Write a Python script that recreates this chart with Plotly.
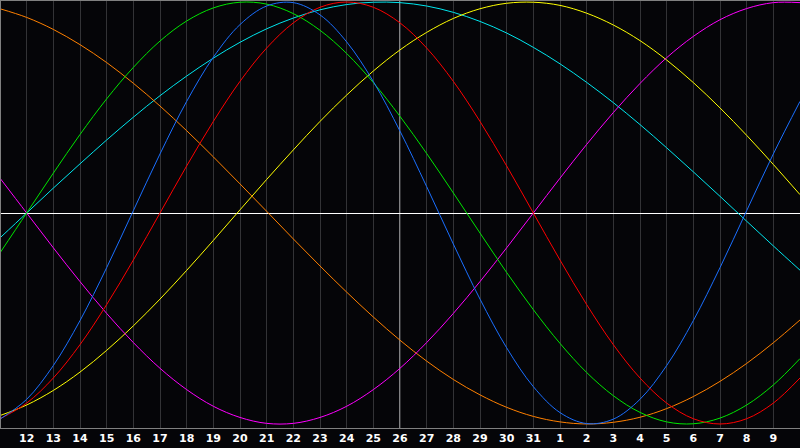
import plotly.graph_objects as go

# Days shown (11 .. 41, where 32.. = next month 1..)
days = list(range(11, 42))
tick_days = list(range(12, 41))
tick_labels = [str(d) for d in range(12, 32)] + [str(d) for d in range(1, 10)]
today = 26

# Cycle values (-1 .. 1)
blue = [-0.977, -0.883, -0.723, -0.510, -0.259, 0.011, 0.280, 0.529, 0.738, 0.893, 0.981,
        0.997, 0.939, 0.811, 0.623, 0.388, 0.125, -0.147, -0.408, -0.639, -0.823, -0.946,
        -0.998, -0.977, -0.883, -0.723, -0.510, -0.259, 0.011, 0.280, 0.529]
red = [-0.975, -0.901, -0.782, -0.624, -0.434, -0.223, 0.000, 0.223, 0.434, 0.624, 0.782,
       0.901, 0.975, 1.000, 0.975, 0.901, 0.782, 0.624, 0.434, 0.223, 0.000, -0.223,
       -0.434, -0.624, -0.782, -0.901, -0.975, -1.000, -0.975, -0.901, -0.782]
green = [-0.189, 0.000, 0.189, 0.372, 0.541, 0.690, 0.815, 0.910, 0.972, 0.999, 0.990,
         0.945, 0.866, 0.756, 0.618, 0.458, 0.282, 0.095, -0.095, -0.282, -0.458, -0.618,
         -0.756, -0.866, -0.945, -0.990, -0.999, -0.972, -0.910, -0.815, -0.690]
magenta = [0.165, 0.000, -0.165, -0.325, -0.476, -0.614, -0.736, -0.837, -0.916, -0.969,
           -0.997, -0.997, -0.969, -0.916, -0.837, -0.736, -0.614, -0.476, -0.325, -0.165,
           0.000, 0.165, 0.325, 0.476, 0.614, 0.736, 0.837, 0.916, 0.969, 0.997, 0.997]
yellow = [-0.960, -0.910, -0.841, -0.754, -0.651, -0.535, -0.408, -0.272, -0.130, 0.015,
          0.159, 0.299, 0.434, 0.559, 0.673, 0.773, 0.856, 0.922, 0.968, 0.994, 0.999,
          0.984, 0.947, 0.891, 0.817, 0.725, 0.618, 0.498, 0.368, 0.230, 0.087]
orange = [0.968, 0.927, 0.870, 0.798, 0.713, 0.615, 0.507, 0.390, 0.266, 0.138, 0.008,
          -0.123, -0.251, -0.375, -0.493, -0.603, -0.702, -0.789, -0.862, -0.921, -0.964,
          -0.990, -1.000, -0.992, -0.968, -0.927, -0.870, -0.798, -0.713, -0.615, -0.507]
cyan = [-0.118, 0.000, 0.118, 0.233, 0.346, 0.454, 0.556, 0.649, 0.734, 0.809, 0.873,
        0.924, 0.963, 0.988, 0.999, 0.997, 0.981, 0.951, 0.908, 0.853, 0.785, 0.707,
        0.619, 0.523, 0.419, 0.309, 0.195, 0.079, -0.039, -0.156, -0.271]

series = [
    ("cyan", cyan, "#00e6ee"),
    ("yellow", yellow, "#ffff00"),
    ("orange", orange, "#ff8000"),
    ("magenta", magenta, "#ff00ff"),
    ("green", green, "#00e600"),
    ("red", red, "#ff0000"),
    ("blue", blue, "#1a6fff"),
]

fig = go.Figure()
for name, vals, col in series:
    fig.add_trace(go.Scatter(
        x=days, y=vals, mode="lines", name=name,
        line=dict(color=col, width=1, shape="spline", smoothing=1),
        hoverinfo="skip",
    ))

bg = "#050508"
fig.update_layout(
    width=800, height=448, autosize=False,
    margin=dict(l=0, r=0, t=0, b=20, pad=0),
    paper_bgcolor=bg, plot_bgcolor=bg,
    showlegend=False,
    xaxis=dict(
        range=[11, 41], tickmode="array", tickvals=tick_days, ticktext=tick_labels,
        showgrid=True, gridcolor="#333336", gridwidth=1,
        zeroline=False, ticks="", showline=True, linecolor="#808080", linewidth=1,
        tickfont=dict(family="DejaVu Sans", size=11, color="#ffffff", weight="bold"),
        fixedrange=True,
    ),
    yaxis=dict(
        range=[-1.019, 1.0095], showgrid=False, showticklabels=False,
        zeroline=True, zerolinecolor="#ffffff", zerolinewidth=1, ticks="",
        fixedrange=True,
    ),
    shapes=[
        dict(type="line", xref="x", yref="paper", x0=today, x1=today, y0=0, y1=1,
             line=dict(color="#ffffff", width=1), layer="between"),
        dict(type="line", xref="paper", yref="paper", x0=0.000625, x1=0.000625, y0=0, y1=1,
             line=dict(color="#808080", width=1)),
        dict(type="line", xref="paper", yref="paper", x0=0, x1=1, y0=0.9988, y1=0.9988,
             line=dict(color="#808080", width=1)),
    ],
)

fig.write_html(
    "out.html",
    config={"displayModeBar": False},
    post_script="document.body.style.margin='0px';document.body.style.padding='0px';",
)
